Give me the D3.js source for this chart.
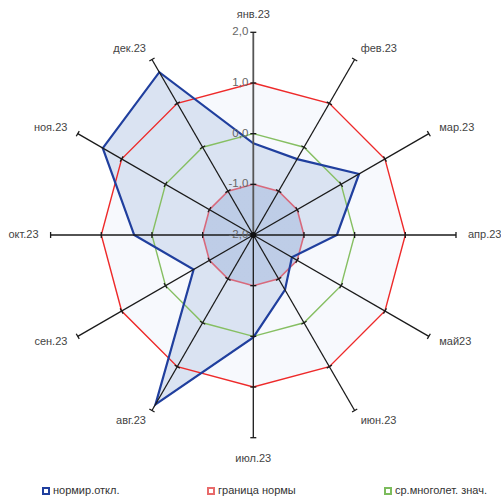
<!DOCTYPE html>
<html><head><meta charset="utf-8">
<script src="https://cdn.jsdelivr.net/npm/d3@7"></script>
<style>body{margin:0;background:#fff}svg{display:block}text{font-family:"Liberation Sans",Arial,sans-serif}</style>
</head><body><svg id="c" width="501" height="498"></svg>
<script>
const months = ["янв.23","фев.23","мар.23","апр.23","май23","июн.23","июл.23","авг.23","сен.23","окт.23","ноя.23","дек.23"];
const normDev = [-0.19,-0.27,0.41,-0.35,-1.12,-0.75,0.02,1.86,-0.64,0.35,1.43,1.71];
const normUpper = [1,1,1,1,1,1,1,1,1,1,1,1];
const normLower = [-1,-1,-1,-1,-1,-1,-1,-1,-1,-1,-1,-1];
const longTermMean = [0,0,0,0,0,0,0,0,0,0,0,0];
const tickValues = [-2,-1,0,1,2];
const tickLabels = ["-2,0","-1,0","0,0","1,0","2,0"];
const legendItems = ["нормир.откл.","граница нормы","ср.многолет. знач."];

const svg = d3.select("#c");
const cx = 253.3, cy = 235, R = 202.7;
const r = d3.scaleLinear().domain([-2,2]).range([0,R]);
const ang = d3.scaleLinear().domain([0,months.length]).range([0,2*Math.PI]);
const g = svg.append("g").attr("transform",`translate(${cx},${cy})`);
const defs = svg.append("defs");
function rg(id, stops){
  const gr = defs.append("radialGradient").attr("id",id).attr("gradientUnits","userSpaceOnUse")
    .attr("cx",cx).attr("cy",cy).attr("r",R);
  stops.forEach(s=>gr.append("stop").attr("offset",s[0]).attr("stop-color",s[1]));
}
rg("gOuter",[[0,"#dae3f2"],[0.8,"#f1f5fb"],[1,"#f7f9fd"]]);
rg("gBlue",[[0,"#b3c5e3"],[0.6,"#cad7ec"],[1,"#dae3f2"]]);
rg("gInner",[[0,"#a4b8da"],[1,"#b9c9e5"]]);

const line = d3.lineRadial().angle((d,i)=>ang(i)).radius(d=>r(d)).curve(d3.curveLinearClosed);

g.append("path").attr("d",line(normUpper)).attr("fill","url(#gOuter)");
g.append("path").attr("d",line(normDev)).attr("fill","url(#gBlue)");
g.append("path").attr("d",line(normLower)).attr("fill","url(#gInner)").attr("fill-opacity",0.85);

g.append("path").attr("d",line(longTermMean)).attr("fill","none").attr("stroke","#86bf62").attr("stroke-width",1.4);
g.append("path").attr("d",line(normLower)).attr("fill","none").attr("stroke","#d8697c").attr("stroke-width",1.6);
g.append("path").attr("d",line(normUpper)).attr("fill","none").attr("stroke","#ee2a2a").attr("stroke-width",1.4);
g.append("path").attr("d",line(normDev)).attr("fill","none").attr("stroke","#203f9e").attr("stroke-width",2.2).attr("stroke-linejoin","miter");

// axes
months.forEach((m,i)=>{
  const a = ang(i), sx = Math.sin(a), sy = -Math.cos(a);
  g.append("line").attr("x1",0).attr("y1",0).attr("x2",sx*R).attr("y2",sy*R)
    .attr("stroke", i===0 ? "#555" : "#1a1a1a").attr("stroke-width", i===0 ? 1.8 : 1.3);
  tickValues.slice(1).forEach(v=>{
    const rr = r(v), px = -sy, py = sx, L = 3;
    g.append("line").attr("x1",sx*rr - px*L).attr("y1",sy*rr - py*L)
      .attr("x2",sx*rr + px*L).attr("y2",sy*rr + py*L)
      .attr("stroke","#1a1a1a").attr("stroke-width",1.3);
  });
  let lr = R + 12, anchor = "middle";
  if (sx > 0.1) anchor = "start"; else if (sx < -0.1) anchor = "end"; else lr = sy < 0 ? R + 17 : R + 21;
  g.append("text").attr("x",sx*lr).attr("y",sy*lr).attr("text-anchor",anchor)
    .attr("dominant-baseline","middle").attr("font-size",11).attr("fill","#444").text(m);
});
g.append("circle").attr("r",3).attr("fill","#111");

// tick labels
tickValues.forEach((v,k)=>{
  g.append("text").attr("x",-5).attr("y",-r(v)).attr("text-anchor","end")
    .attr("dominant-baseline","middle").attr("font-size",11.5).attr("fill","#666").text(tickLabels[k]);
});

// legend
const legColors = ["#203f9e","#e86a6a","#7cbc5c"];
const legX = [43,208,385];
legendItems.forEach((t,i)=>{
  svg.append("rect").attr("x",legX[i]).attr("y",488).attr("width",6).attr("height",6)
    .attr("fill","#fff").attr("stroke",legColors[i]).attr("stroke-width",2);
  svg.append("text").attr("x",legX[i]+10).attr("y",491.5).attr("dominant-baseline","middle")
    .attr("font-size",11).attr("fill","#333").text(t);
});
</script></body></html>
